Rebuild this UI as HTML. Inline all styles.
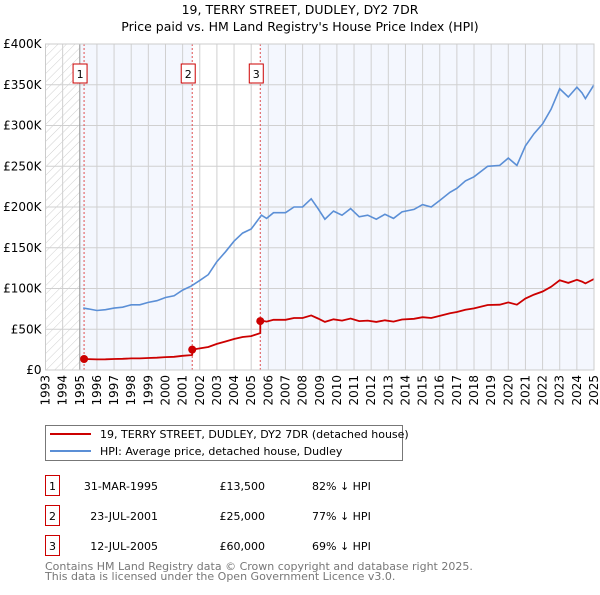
<!DOCTYPE html>
<html><head><meta charset="utf-8"><style>
body{margin:0;background:#fff;font-family:"Liberation Sans","DejaVu Sans",sans-serif;}
#c{position:relative;width:600px;height:590px;}
</style></head><body>
<div id="c">
<svg id="s" width="600" height="590" xmlns="http://www.w3.org/2000/svg" style="font-family:'DejaVu Sans','Liberation Sans',sans-serif"></svg>
</div>
<script>
const hpiYears=[1995.2,1995.5,1996,1996.5,1997,1997.5,1998,1998.5,1999,1999.5,2000,2000.5,2001,2001.5,2002,2002.5,2003,2003.5,2004,2004.5,2005,2005.6,2005.9,2006.3,2007,2007.5,2008,2008.5,2008.9,2009.3,2009.8,2010.3,2010.8,2011.3,2011.8,2012.3,2012.8,2013.3,2013.8,2014.5,2015,2015.5,2016,2016.6,2017,2017.5,2018,2018.8,2019.5,2020,2020.5,2021,2021.5,2022,2022.5,2023,2023.5,2024,2024.3,2024.5,2025];
const hpiValues=[76,75,73,74,76,77,80,80,83,85,89,91,98,103,110,117,133,145,158,168,173,190,186,193,193,200,200,210,198,185,195,190,198,188,190,185,191,186,194,197,203,200,208,218,223,232,237,250,251,260,251,275,290,302,320,345,335,347,340,333,350];
const saleYears=[1995.25,2001.56,2005.53];
const salePrices=[13.5,25,60];
const saleLabels=["1","2","3"];
const saleDates=["31-MAR-1995","23-JUL-2001","12-JUL-2005"];
const salePriceText=["£13,500","£25,000","£60,000"];
const saleHpiText=["82% ↓ HPI","77% ↓ HPI","69% ↓ HPI"];
const yTicks=[0,50,100,150,200,250,300,350,400];
const yTickLabels=["£0","£50K","£100K","£150K","£200K","£250K","£300K","£350K","£400K"];
const xStart=1993,xEnd=2025;

const X0=45.5,X1=594,Y0=370,Y1=44;
const sx=v=>X0+(v-xStart)/(xEnd-xStart)*(X1-X0);
const sy=v=>Y0-v/400*(Y0-Y1);
const svg=document.getElementById('s');
const NS='http://www.w3.org/2000/svg';
function el(t,a,txt){const e=document.createElementNS(NS,t);for(const k in a)e.setAttribute(k,a[k]);if(txt!==undefined)e.textContent=txt;svg.appendChild(e);return e;}
function hpiAt(y){for(let i=0;i<hpiYears.length-1;i++){if(y<=hpiYears[i+1]){const t=(y-hpiYears[i])/(hpiYears[i+1]-hpiYears[i]);return hpiValues[i]+t*(hpiValues[i+1]-hpiValues[i]);}}return hpiValues[hpiValues.length-1];}

let t=el('text',{x:300,y:14,'text-anchor':'middle','font-size':12.5,fill:'#000'},'19, TERRY STREET, DUDLEY, DY2 7DR');

t=el('text',{x:300,y:31,'text-anchor':'middle','font-size':12.5,fill:'#000'},"Price paid vs. HM Land Registry's House Price Index (HPI)");


const defs=el('defs',{});
defs.innerHTML='<pattern id="h" width="6" height="6" patternUnits="userSpaceOnUse" patternTransform="rotate(45)"><line x1="0" y1="0" x2="0" y2="6" stroke="#d0d0d0" stroke-width="1"/></pattern>';
let r=el('rect',{x:X0,y:Y1,width:sx(1995)-X0,height:Y0-Y1,fill:'url(#h)'});

r=el('rect',{x:sx(1995),y:Y1,width:sx(saleYears[1])-sx(1995),height:Y0-Y1,fill:'#f4f7fe'});

r=el('rect',{x:sx(saleYears[2]),y:Y1,width:X1-sx(saleYears[2]),height:Y0-Y1,fill:'#f4f7fe'});


for(let y=xStart;y<=xEnd;y++){
  let g=el('line',{x1:sx(y),x2:sx(y),y1:Y1,y2:Y0,stroke:'#d0d0d0','stroke-width':1});
  
  let l=el('text',{transform:`translate(${sx(y)+4},${Y0+5}) rotate(-90)`,'text-anchor':'end','font-size':12,fill:'#000'},String(y));
  
}
yTicks.forEach((v,i)=>{
  let g=el('line',{x1:X0,x2:X1,y1:sy(v),y2:sy(v),stroke:'#d0d0d0','stroke-width':1});
  
  let l=el('text',{x:X0-4,y:sy(v)+4,'text-anchor':'end','font-size':12,fill:'#000'},yTickLabels[i]);
  
});
let ax=el('line',{x1:sx(1995),x2:sx(1995),y1:Y1,y2:Y0,stroke:'#999','stroke-width':1});


saleYears.forEach((y,i)=>{
  let l=el('line',{x1:sx(y),x2:sx(y),y1:Y1,y2:Y0,stroke:'#e05050','stroke-width':1,'stroke-dasharray':'2,2'});
  
  let b=el('rect',{x:sx(y)-11,y:64,width:14,height:19,fill:'#fff',stroke:'#c00','stroke-width':1});
  
  let tx=el('text',{x:sx(y)-4,y:78,'text-anchor':'middle','font-size':11,fill:'#000'},saleLabels[i]);
  
});

let d=hpiYears.map((y,i)=>(i?'L':'M')+sx(y).toFixed(1)+','+sy(hpiValues[i]).toFixed(1)).join('');
let p=el('path',{d:d,fill:'none',stroke:'#5b8fd6','stroke-width':1.6});


let pts=[];
for(let s=0;s<saleYears.length;s++){
  const a=saleYears[s],b=s+1<saleYears.length?saleYears[s+1]:xEnd;
  const f=salePrices[s]/hpiAt(a);
  pts.push([a,salePrices[s]]);
  hpiYears.forEach((y,i)=>{if(y>a&&y<b)pts.push([y,hpiValues[i]*f]);});
  pts.push([b,hpiAt(b)*f]);
}
d=pts.map((q,i)=>(i?'L':'M')+sx(q[0]).toFixed(1)+','+sy(q[1]).toFixed(1)).join('');
p=el('path',{d:d,fill:'none',stroke:'#cc0000','stroke-width':1.8});

saleYears.forEach((y,i)=>{
  let c=el('circle',{cx:sx(y),cy:sy(salePrices[i]),r:4,fill:'#cc0000'});
  
});
let bd=el('rect',{x:X0,y:Y1,width:X1-X0,height:Y0-Y1,fill:'none',stroke:'#ccc','stroke-width':1});


let lg=el('rect',{x:45.5,y:425.5,width:357,height:35,fill:'#fff',stroke:'#777','stroke-width':1});

let ll=el('line',{x1:50,x2:91,y1:434,y2:434,stroke:'#cc0000','stroke-width':2});

ll=el('text',{x:100,y:438,'font-size':11,fill:'#000'},'19, TERRY STREET, DUDLEY, DY2 7DR (detached house)');

ll=el('line',{x1:50,x2:91,y1:451,y2:451,stroke:'#5b8fd6','stroke-width':2});

ll=el('text',{x:100,y:455,'font-size':11,fill:'#000'},'HPI: Average price, detached house, Dudley');


saleYears.forEach((y,i)=>{
  const ry=475+i*30;
  let b=el('rect',{x:45.5,y:ry+0.5,width:14,height:20,fill:'#fff',stroke:'#c00','stroke-width':1});
  
  let a=el('text',{x:52.5,y:ry+15,'text-anchor':'middle','font-size':11,fill:'#000'},saleLabels[i]);
  
  a=el('text',{x:158,y:ry+15,'text-anchor':'end','font-size':11,fill:'#000'},saleDates[i]);
  
  a=el('text',{x:265,y:ry+15,'text-anchor':'end','font-size':11,fill:'#000'},salePriceText[i]);
  
  a=el('text',{x:312,y:ry+15,'font-size':11,fill:'#000'},saleHpiText[i]);
  
});
let f=el('text',{x:45,y:570,'font-size':11,fill:'#777'},'Contains HM Land Registry data © Crown copyright and database right 2025.');

f=el('text',{x:45,y:580,'font-size':11,fill:'#777'},'This data is licensed under the Open Government Licence v3.0.');

</script>
</body></html>
